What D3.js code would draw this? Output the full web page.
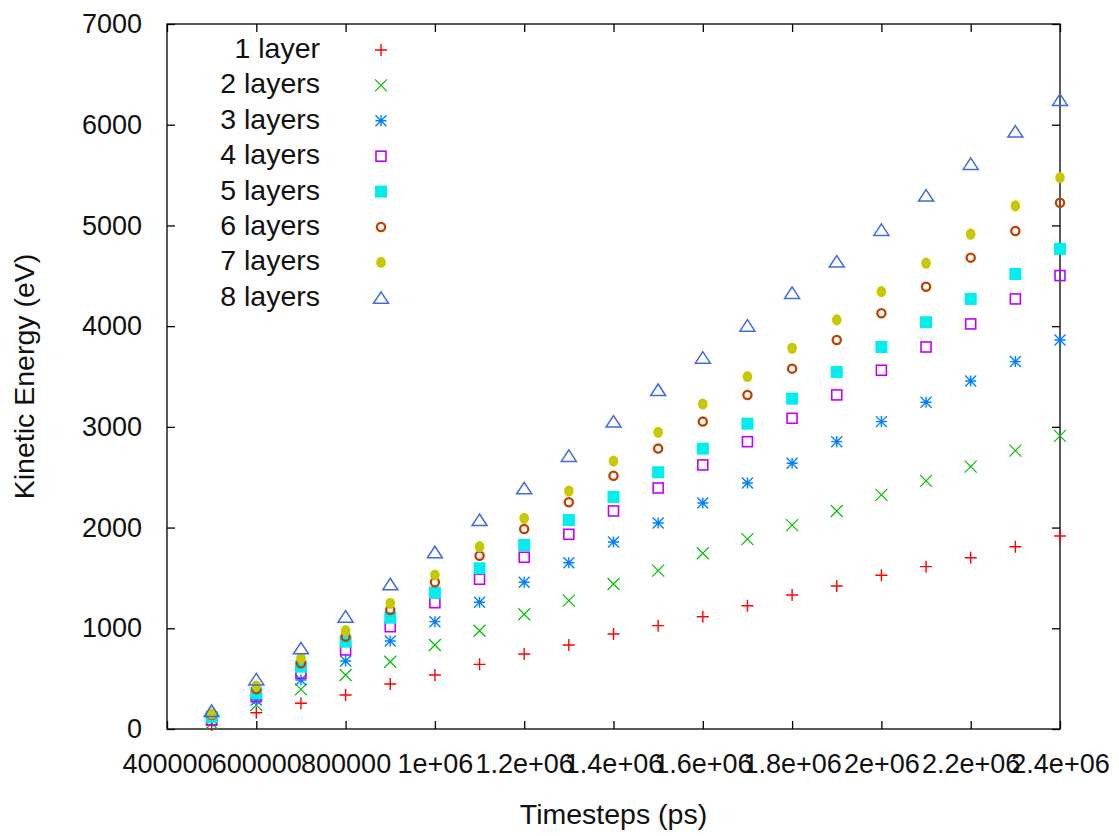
<!DOCTYPE html>
<html>
<head>
<meta charset="utf-8">
<script src="https://cdn.jsdelivr.net/npm/d3@7"></script>
<style>
  html, body { margin: 0; padding: 0; background: #fff; }
  svg text { font-family: "Liberation Sans", Arial, sans-serif; fill: #111; }
</style>
</head>
<body>
<svg id="chart" width="1119" height="836"></svg>
<script>
// Timesteps (ps) at which kinetic energy was sampled
const timesteps = [500000, 600000, 700000, 800000, 900000, 1000000, 1100000, 1200000, 1300000, 1400000,
                   1500000, 1600000, 1700000, 1800000, 1900000, 2000000, 2100000, 2200000, 2300000, 2400000];

// Kinetic energy (eV) per number of layers
const layer1 = [40, 162, 255, 338, 447, 536, 642, 745, 834, 943, 1026, 1115, 1224, 1331, 1420, 1526, 1612, 1701, 1810, 1917];
const layer2 = [57, 238, 394, 536, 668, 834, 976, 1139, 1274, 1440, 1572, 1745, 1885, 2025, 2165, 2324, 2463, 2605, 2764, 2910];
const layer3 = [106, 288, 487, 675, 874, 1066, 1258, 1457, 1651, 1857, 2046, 2244, 2443, 2638, 2853, 3052, 3244, 3456, 3648, 3863];
const layer4 = [90, 321, 553, 785, 1016, 1254, 1487, 1705, 1933, 2165, 2393, 2622, 2853, 3085, 3317, 3562, 3793, 4022, 4270, 4502];
const layer5 = [120, 355, 619, 867, 1105, 1354, 1596, 1827, 2075, 2304, 2549, 2784, 3032, 3280, 3545, 3793, 4039, 4270, 4518, 4767];
const layer6 = [140, 394, 652, 917, 1182, 1457, 1721, 1986, 2251, 2515, 2784, 3052, 3317, 3578, 3863, 4128, 4392, 4680, 4945, 5226];
const layer7 = [150, 427, 702, 976, 1248, 1529, 1810, 2092, 2363, 2660, 2946, 3227, 3499, 3780, 4062, 4343, 4625, 4913, 5194, 5475];
const layer8 = [179, 492, 801, 1115, 1437, 1755, 2075, 2390, 2711, 3052, 3366, 3687, 4005, 4330, 4641, 4955, 5296, 5611, 5932, 6246];

const seriesNames = ["1 layer", "2 layers", "3 layers", "4 layers", "5 layers", "6 layers", "7 layers", "8 layers"];
const seriesValues = [layer1, layer2, layer3, layer4, layer5, layer6, layer7, layer8];

// Axis ticks
const xTickValues = [400000, 600000, 800000, 1000000, 1200000, 1400000, 1600000, 1800000, 2000000, 2200000, 2400000];
const xTickLabels = ["400000", "600000", "800000", "1e+06", "1.2e+06", "1.4e+06", "1.6e+06", "1.8e+06", "2e+06", "2.2e+06", "2.4e+06"];
const yTickValues = [0, 1000, 2000, 3000, 4000, 5000, 6000, 7000];

// Point styles (gnuplot-like palette and symbols)
const colors = ["#ff0000", "#00c000", "#0080ff", "#c000ff", "#00eeee", "#c04000", "#c8c800", "#4169e1"];
const symbols = ["plus", "cross", "star", "square", "squareFill", "circle", "circleFill", "triangle"];

const svg = d3.select("#chart");
const plot = { left: 167, right: 1060, top: 24, bottom: 729 };

const x = d3.scaleLinear().domain([400000, 2400000]).range([plot.left, plot.right]);
const y = d3.scaleLinear().domain([0, 7000]).range([plot.bottom, plot.top]);

const TICK_FONT = 27;
const TEXT_FONT = 28.5;

// Draws one point symbol centred at (cx, cy)
function drawSymbol(g, kind, cx, cy, color) {
  const s = 6;
  switch (kind) {
    case "plus":
      g.append("path").attr("d", `M${cx - s},${cy}H${cx + s}M${cx},${cy - s}V${cy + s}`)
        .attr("stroke", color).attr("stroke-width", 1.4).attr("fill", "none");
      break;
    case "cross":
      g.append("path").attr("d", `M${cx - s},${cy - s}L${cx + s},${cy + s}M${cx - s},${cy + s}L${cx + s},${cy - s}`)
        .attr("stroke", color).attr("stroke-width", 1.2).attr("fill", "none");
      break;
    case "star": {
      const t = 5.5;
      g.append("path").attr("d",
        `M${cx - t},${cy}H${cx + t}M${cx},${cy - t}V${cy + t}` +
        `M${cx - t},${cy - t}L${cx + t},${cy + t}M${cx - t},${cy + t}L${cx + t},${cy - t}`)
        .attr("stroke", color).attr("stroke-width", 1.4).attr("fill", "none");
      break;
    }
    case "square":
      g.append("rect").attr("x", cx - 5).attr("y", cy - 5).attr("width", 10).attr("height", 10)
        .attr("stroke", color).attr("stroke-width", 1.6).attr("fill", "none");
      break;
    case "squareFill":
      g.append("rect").attr("x", cx - 6).attr("y", cy - 6).attr("width", 12).attr("height", 12)
        .attr("fill", color);
      break;
    case "circle":
      g.append("circle").attr("cx", cx).attr("cy", cy).attr("r", 4.1)
        .attr("stroke", color).attr("stroke-width", 2.3).attr("fill", "none");
      break;
    case "circleFill":
      g.append("ellipse").attr("cx", cx).attr("cy", cy).attr("rx", 4.8).attr("ry", 5.6)
        .attr("fill", color);
      break;
    case "triangle":
      g.append("path").attr("d", `M${cx},${cy - 6}L${cx + 7.5},${cy + 5.5}L${cx - 7.5},${cy + 5.5}Z`)
        .attr("stroke", color).attr("stroke-width", 1.5).attr("fill", "none");
      break;
  }
}

// Frame
svg.append("rect")
  .attr("x", plot.left).attr("y", plot.top)
  .attr("width", plot.right - plot.left).attr("height", plot.bottom - plot.top)
  .attr("fill", "none").attr("stroke", "#000").attr("stroke-width", 1.3);

// Axes with inward ticks on all four sides
const styleAxis = g => {
  g.select(".domain").remove();
  g.selectAll(".tick line").attr("stroke", "#000").attr("stroke-width", 1.3);
  g.selectAll(".tick text").attr("font-size", TICK_FONT)
    .attr("font-family", "Liberation Sans, Arial, sans-serif").attr("fill", "#111");
};

svg.append("g")
  .attr("transform", `translate(0,${plot.bottom})`)
  .call(d3.axisBottom(x).tickValues(xTickValues).tickSize(-8).tickPadding(25)
        .tickFormat((d, i) => xTickLabels[i]))
  .call(styleAxis);

svg.append("g")
  .attr("transform", `translate(0,${plot.top})`)
  .call(d3.axisTop(x).tickValues(xTickValues).tickSize(-8).tickFormat(""))
  .call(styleAxis);

svg.append("g")
  .attr("transform", `translate(${plot.left},0)`)
  .call(d3.axisLeft(y).tickValues(yTickValues).tickSize(-8).tickPadding(25)
        .tickFormat(d3.format("d")))
  .call(styleAxis);

svg.append("g")
  .attr("transform", `translate(${plot.right},0)`)
  .call(d3.axisRight(y).tickValues(yTickValues).tickSize(-8).tickFormat(""))
  .call(styleAxis);

// Data points
seriesValues.forEach((vals, si) => {
  const g = svg.append("g").attr("class", "series");
  vals.forEach((v, i) => drawSymbol(g, symbols[si], x(timesteps[i]), y(v), colors[si]));
});

// Legend
const legend = svg.append("g").attr("class", "legend");
seriesNames.forEach((name, i) => {
  const rowY = 50 + i * 35.4;
  legend.append("text")
    .attr("x", 320).attr("y", rowY + 8)
    .attr("text-anchor", "end").attr("font-size", TEXT_FONT)
    .text(name);
  drawSymbol(legend, symbols[i], 381, rowY, colors[i]);
});

// Axis titles
svg.append("text")
  .attr("x", (plot.left + plot.right) / 2).attr("y", 824)
  .attr("text-anchor", "middle").attr("font-size", TEXT_FONT)
  .text("Timesteps (ps)");

svg.append("text")
  .attr("transform", `translate(34,${(plot.top + plot.bottom) / 2}) rotate(-90)`)
  .attr("text-anchor", "middle").attr("font-size", TEXT_FONT)
  .text("Kinetic Energy (eV)");
</script>
</body>
</html>
